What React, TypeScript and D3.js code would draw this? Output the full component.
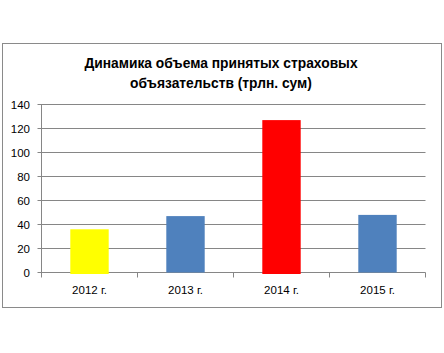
import React from "react";
import * as d3 from "d3";

const categories = ["2012 г.", "2013 г.", "2014 г.", "2015 г."];
const values = [36, 47, 127, 48];
const barColors = ["#FFFF00", "#4F81BD", "#FF0000", "#4F81BD"];
const yTicks = [0, 20, 40, 60, 80, 100, 120, 140];
const titleLines = ["Динамика объема принятых страховых", "объязательств (трлн. сум)"];

export default function App() {
  const W = 444, H = 353;
  const left = 41.5, right = 425.5, top = 104.5, bottom = 272.5;
  const x = d3.scaleBand<string>().domain(categories).range([left, right]).paddingInner(0.6).paddingOuter(0.3);
  const xb = d3.scaleBand<string>().domain(categories).range([left, right]);
  const y = d3.scaleLinear().domain([0, 140]).range([bottom, top]);
  const font = "'Liberation Sans', Arial, sans-serif";
  return (
    <svg width={W} height={H} style={{ position: "absolute", left: 0, top: 0, background: "#fff" }}>
      <rect x={2.5} y={43.5} width={439} height={264} fill="#fff" stroke="#8a8a8a" strokeWidth={1} />
      {titleLines.map((t, i) => (
        <text key={i} x={221} y={68 + i * 20} textAnchor="middle" fontFamily={font} fontWeight="bold" fontSize={13.8} fill="#000">{t}</text>
      ))}
      {yTicks.map((v) => (
        <g key={v}>
          <line x1={left - 4} x2={right} y1={y(v)} y2={y(v)} stroke="#868686" strokeWidth={1} />
          <text x={30} y={y(v) + 4} textAnchor="end" fontFamily={font} fontSize={11.5} fill="#000">{v}</text>
        </g>
      ))}
      <line x1={left} x2={left} y1={top} y2={bottom + 5} stroke="#868686" strokeWidth={1} />
      {categories.map((c) => (
        <line key={c} x1={(xb(c) as number) + xb.bandwidth()} x2={(xb(c) as number) + xb.bandwidth()} y1={bottom} y2={bottom + 5} stroke="#868686" strokeWidth={1} />
      ))}
      {categories.map((c, i) => (
        <rect key={c} x={x(c)} y={y(values[i])} width={x.bandwidth()} height={bottom - y(values[i]) + (barColors[i] === "#4F81BD" ? 0 : 1.5)} fill={barColors[i]} />
      ))}
      {categories.map((c) => (
        <text key={c} x={(xb(c) as number) + xb.bandwidth() / 2} y={294} textAnchor="middle" fontFamily={font} fontSize={11.5} fill="#000">{c}</text>
      ))}
    </svg>
  );
}
